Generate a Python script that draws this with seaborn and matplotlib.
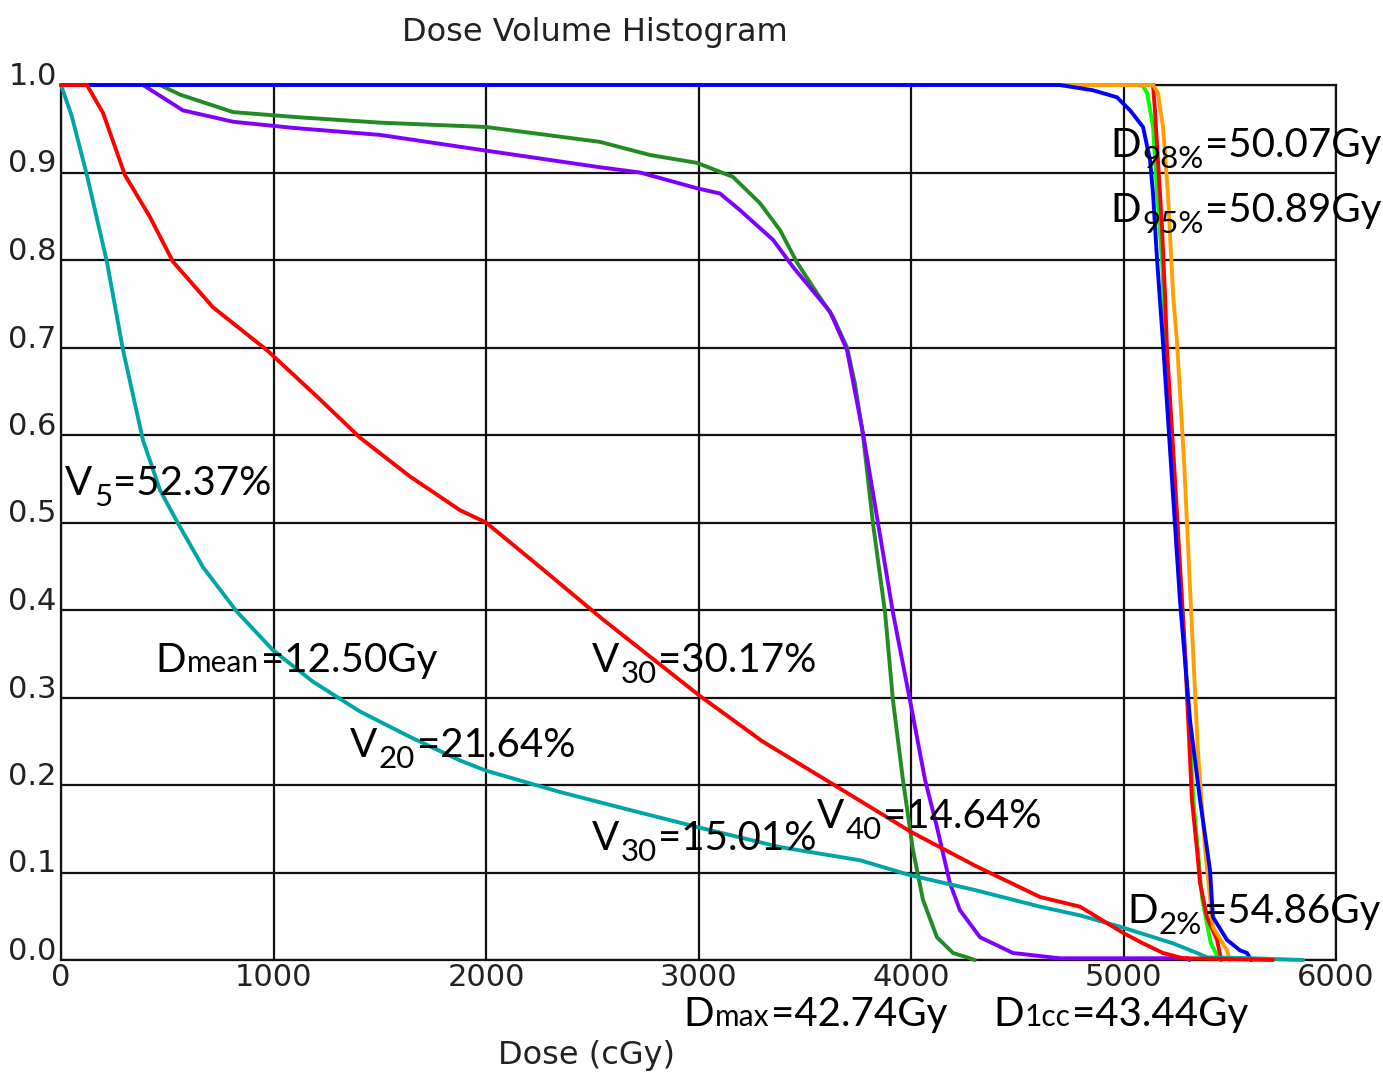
import numpy as np
import pandas as pd
import matplotlib
matplotlib.use("Agg")
import matplotlib.pyplot as plt
import seaborn as sns

# ---------------- data (dose in cGy, volume fraction) ----------------
lung_dose = [0, 50, 122, 216, 292, 386, 466, 546, 668, 828, 998, 1186, 1407, 1642, 1878, 2000,
             2348, 2700, 2993, 3384, 3760, 3995, 4300, 4607, 4795, 4998, 5233, 5346, 5393, 5600, 5845]
lung_vol = [1.0, 0.965, 0.897, 0.798, 0.697, 0.594, 0.537, 0.501, 0.449, 0.398, 0.354, 0.318, 0.284, 0.255,
            0.228, 0.2164, 0.192, 0.17, 0.152, 0.129, 0.114, 0.097, 0.08, 0.061, 0.051, 0.037, 0.019,
            0.008, 0.003, 0.002, 0.0]

heart_dose = [0, 122, 198, 301, 419, 527, 715, 969, 1200, 1407, 1640, 1878, 2000, 2250, 2551, 3007,
              3300, 3652, 4000, 4300, 4607, 4795, 4998, 5092, 5186, 5280, 5500, 5704]
heart_vol = [1.0, 1.0, 0.968, 0.897, 0.849, 0.798, 0.746, 0.697, 0.645, 0.597, 0.553, 0.514, 0.5, 0.45,
             0.389, 0.3017, 0.25, 0.198, 0.1464, 0.108, 0.072, 0.061, 0.031, 0.019, 0.008, 0.002, 0.001, 0.0]

oar_g_dose = [0, 466, 560, 810, 1125, 1500, 2000, 2536, 2772, 2993, 3162, 3289, 3384, 3464, 3558, 3633,
              3699, 3736, 3774, 3821, 3878, 3915, 3962, 4009, 4056, 4122, 4198, 4264, 4300]
oar_g_vol = [1.0, 1.0, 0.989, 0.969, 0.963, 0.957, 0.952, 0.935, 0.92, 0.911, 0.895, 0.865, 0.834, 0.797,
             0.762, 0.735, 0.70, 0.659, 0.60, 0.499, 0.397, 0.297, 0.206, 0.126, 0.069, 0.026, 0.008,
             0.003, 0.0]

oar_p_dose = [0, 386, 574, 810, 1092, 1500, 2000, 2536, 2725, 2993, 3101, 3195, 3351, 3445, 3619, 3699,
              3774, 3845, 3915, 3995, 4066, 4122, 4183, 4230, 4325, 4480, 4700, 5300, 5310]
oar_p_vol = [1.0, 1.0, 0.971, 0.958, 0.951, 0.943, 0.925, 0.906, 0.90, 0.882, 0.876, 0.857, 0.823, 0.792,
             0.741, 0.697, 0.602, 0.499, 0.397, 0.297, 0.206, 0.152, 0.088, 0.057, 0.026, 0.008, 0.002,
             0.002, 0.0]

ptv_b_dose = [0, 4700, 4856, 4969, 5031, 5092, 5125, 5139, 5158, 5186, 5219, 5266, 5313, 5360, 5407,
              5421, 5487, 5548, 5581, 5600]
ptv_b_vol = [1.0, 1.0, 0.994, 0.986, 0.971, 0.952, 0.914, 0.876, 0.80, 0.705, 0.583, 0.41, 0.274, 0.183,
             0.103, 0.049, 0.023, 0.011, 0.008, 0.0]

ptv_o_dose = [0, 5139, 5162, 5186, 5209, 5233, 5252, 5285, 5318, 5350, 5384, 5421, 5487, 5500]
ptv_o_vol = [1.0, 1.0, 0.991, 0.952, 0.876, 0.762, 0.705, 0.57, 0.40, 0.24, 0.126, 0.038, 0.011, 0.0]

ptv_l_dose = [0, 5087, 5111, 5139, 5158, 5181, 5195, 5240, 5290, 5330, 5370, 5410, 5450]
ptv_l_vol = [1.0, 1.0, 0.991, 0.952, 0.876, 0.80, 0.723, 0.55, 0.35, 0.18, 0.07, 0.02, 0.0]

ptv_r_dose = [0, 5139, 5148, 5162, 5181, 5195, 5205, 5242, 5289, 5322, 5346, 5360, 5393, 5440, 5460]
ptv_r_vol = [1.0, 1.0, 0.971, 0.914, 0.838, 0.762, 0.697, 0.549, 0.354, 0.183, 0.126, 0.088, 0.049, 0.023, 0.0]

# drawing order (later on top)
series = {
    "OAR green": (oar_g_dose, oar_g_vol),
    "OAR purple": (oar_p_dose, oar_p_vol),
    "PTV lime": (ptv_l_dose, ptv_l_vol),
    "PTV red": (ptv_r_dose, ptv_r_vol),
    "PTV orange": (ptv_o_dose, ptv_o_vol),
    "PTV blue": (ptv_b_dose, ptv_b_vol),
    "Lung": (lung_dose, lung_vol),
    "Heart": (heart_dose, heart_vol),
}
colors = {
    "PTV blue": "#0000FF",
    "PTV lime": "#00FF00",
    "PTV orange": "#FFA000",
    "PTV red": "#FF0000",
    "OAR green": "#228B22",
    "OAR purple": "#8000FF",
    "Lung": "#00A5A5",
    "Heart": "#FF0000",
}

x_ticks = [0, 1000, 2000, 3000, 4000, 5000, 6000]
y_ticks = [0.0, 0.1, 0.2, 0.3, 0.4, 0.5, 0.6, 0.7, 0.8, 0.9, 1.0]

# annotation texts: (head, subscript/small part, tail, kind)
annotations = [
    ("D", "98%", "=50.07Gy", "sub"),
    ("D", "95%", "=50.89Gy", "sub"),
    ("V", "5", "=52.37%", "sub"),
    ("D", "mean", "=12.50Gy", "small"),
    ("V", "30", "=30.17%", "sub"),
    ("V", "20", "=21.64%", "sub"),
    ("V", "30", "=15.01%", "sub"),
    ("V", "40", "=14.64%", "sub"),
    ("D", "2%", "=54.86Gy", "sub"),
    ("D", "max", "=42.74Gy", "small"),
    ("D", "1cc", "=43.44Gy", "small"),
]
# anchor pixel positions (left, baseline) in image coordinates
anchor_px = [(1110, 157), (1110, 222), (65, 495), (155, 672), (592, 672), (350, 757),
             (592, 850), (817, 828), (1127, 923), (683, 1026), (993, 1026)]

rows = []
for name, (d, v) in series.items():
    for a, b in zip(d, v):
        rows.append({"series": name, "dose": a, "volume": b})
df = pd.DataFrame(rows)

# ---------------- figure ----------------
W, H = 1383, 1076
sns.set_theme(style="white")
plt.rcParams["font.family"] = ["DejaVu Sans"]

fig = plt.figure(figsize=(W / 100, H / 100), dpi=100)
ax = fig.add_axes([61 / W, (H - 960) / H, (1336 - 61) / W, (960 - 85) / H])

sns.lineplot(data=df, x="dose", y="volume", hue="series", hue_order=list(series.keys()),
             palette=colors, estimator=None, sort=False, linewidth=2.8, legend=False, ax=ax)
for ln in ax.get_lines():
    ln.set_clip_on(False)
    ln.set_zorder(3)
    ln.set_solid_joinstyle("miter")

ax.set_xlim(0, 6000)
ax.set_ylim(0, 1.0)
ax.set_xticks(x_ticks)
ax.set_yticks(y_ticks)
ax.set_xticklabels([str(t) for t in x_ticks])
ax.set_yticklabels([f"{t:.1f}" for t in y_ticks])
ax.grid(True, color="#111111", linewidth=1.6)
ax.set_axisbelow(True)
for sp in ax.spines.values():
    sp.set_color("#111111")
    sp.set_linewidth(1.6)
    sp.set_zorder(2)
ax.tick_params(axis="both", length=0, labelsize=22, labelcolor="#222222")
ax.tick_params(axis="x", pad=2)
ax.tick_params(axis="y", pad=3)
for lab in ax.get_yticklabels():
    lab.set_verticalalignment("baseline")

ax.set_xlabel("")
ax.set_ylabel("")
ax.set_title("Dose Volume Histogram", x=(595 - 61) / 1275, fontsize=23, pad=32, color="#222222")
fig.text(587 / W, (H - 1040) / H, "Dose (cGy)", fontsize=23, ha="center", va="top", color="#222222")

# ---------------- rich annotations ----------------
renderer = fig.canvas.get_renderer()
MAIN, SUB, SMALL = 29, 22.5, 21.5


def rich(x_px, y_px, parts):
    x = x_px
    for s, size, dy in parts:
        t = fig.text(x / W, (H - y_px - dy) / H, s, fontsize=size, family=["Lato", "DejaVu Sans"],
                     ha="left", va="baseline", color="black", zorder=5)
        x += t.get_window_extent(renderer).width + 1.5


for (head, sub, tail, kind), (px, py) in zip(annotations, anchor_px):
    if kind == "sub":
        parts = [(head, MAIN, 0), (sub, SUB, 11), (tail, MAIN, 0)]
    else:
        parts = [(head, MAIN, 0), (sub, SMALL, 0), (tail, MAIN, 0)]
    rich(px, py, parts)

fig.savefig("out.png", dpi=100)
